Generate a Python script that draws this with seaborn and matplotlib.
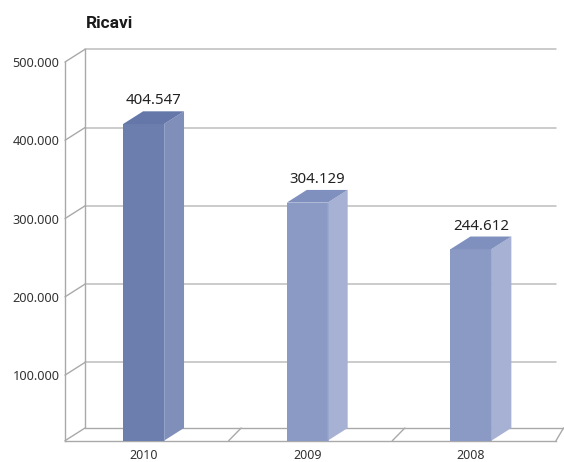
import matplotlib
matplotlib.use("Agg")
import numpy as np
import pandas as pd
import matplotlib.pyplot as plt
import seaborn as sns
from matplotlib.patches import Polygon

# data
years = ["2010", "2009", "2008"]
ricavi = [404547, 304129, 244612]
grid_values = [100000, 200000, 300000, 400000, 500000]
chart_title = "Ricavi"

front_colors = ["#6b7eae", "#8a9ac4", "#8a9ac4"]
side_colors = ["#7f8fba", "#a6b1d4", "#a6b1d4"]
top_colors = ["#6577a9", "#8090be", "#8090be"]


def fmt_it(v):
    """Italian style thousands separator."""
    return f"{v:,.0f}".replace(",", ".")


sns.set_theme(style="white")
plt.rcParams["font.family"] = ["Noto Sans", "DejaVu Sans"]

W, H = 564, 462
fig = plt.figure(figsize=(W / 100, H / 100), dpi=100)

# front plane of the fake 3D box, in pixels
front_left, front_right = 65, 556
front_floor, front_top = 440.7, 62
depth_px_x, depth_px_y = 20, 12.7

ax = fig.add_axes([front_left / W, (H - front_floor) / H,
                   (front_right - front_left) / W, (front_floor - front_top) / H])

df = pd.DataFrame({"year": years, "ricavi": ricavi})
sns.barplot(data=df, x="year", y="ricavi", hue="year", palette=front_colors,
            width=0.25, saturation=1, legend=False, ax=ax, zorder=3)

ymax = max(grid_values)
units_per_px = ymax / ((front_floor - front_top) + depth_px_y)
D = depth_px_y * units_per_px          # depth offset in data units
shift = 0.02
x0, x1 = -0.5 + shift, len(years) - 0.5 + shift
dx = depth_px_x * (x1 - x0) / (front_right - front_left)
dx_floor = 12.5 * (x1 - x0) / (front_right - front_left)

ax.set_xlim(x0, x1)
ax.set_ylim(0, ymax - D)

line_c = "#a9a9a9"
grid_c = "#bdbdbd"

# back wall gridlines and left depth ticks
for v in grid_values:
    ax.plot([x0 + dx, x1], [v, v], color=grid_c, lw=1.1, clip_on=False, zorder=1)
    ax.plot([x0, x0 + dx], [v - D, v], color=line_c, lw=1.0, clip_on=False, zorder=1)
ax.plot([x0 + dx, x0 + dx], [D, ymax], color=line_c, lw=1.0, clip_on=False, zorder=1)

# floor
ax.plot([x0, x0 + dx], [0, D], color=line_c, lw=1.0, clip_on=False, zorder=1)
ax.plot([x0 + dx, x1 + dx_floor * 0.6], [D, D], color=line_c, lw=1.0, clip_on=False, zorder=1)
for i in range(1, len(years)):
    xb = i - 0.5 + shift
    ax.plot([xb, xb + dx_floor], [0, D], color=line_c, lw=1.0, clip_on=False, zorder=1)
ax.plot([x1, x1 + dx_floor * 0.6], [0, D], color=line_c, lw=1.0, clip_on=False, zorder=1)

# side and top faces of each bar
bars = sorted(ax.patches, key=lambda p: p.get_x())
for bar, v, sc, tc in zip(bars, ricavi, side_colors, top_colors):
    bl = bar.get_x()
    br = bl + bar.get_width()
    bar.set_edgecolor("none")
    side = Polygon([(br, 0), (br + dx, D), (br + dx, v + D), (br, v)],
                   closed=True, facecolor=sc, edgecolor="none", zorder=3, clip_on=False)
    top = Polygon([(bl, v), (bl + dx, v + D), (br + dx, v + D), (br, v)],
                  closed=True, facecolor=tc, edgecolor="none", zorder=3, clip_on=False)
    ax.add_patch(side)
    ax.add_patch(top)
    ax.plot([br, br], [0, v], color="#9aa7cc", lw=0.6, zorder=4, clip_on=False)
    ax.annotate(fmt_it(v), xy=((bl + br) / 2 + dx / 2, v + D), xytext=(0, 5),
                textcoords="offset points", ha="center", va="baseline",
                fontsize=10.8, color="#222222", annotation_clip=False)

# axes styling
for s in ["top", "right"]:
    ax.spines[s].set_visible(False)
for s in ["left", "bottom"]:
    ax.spines[s].set_color(line_c)
    ax.spines[s].set_linewidth(1.0)

ax.set_yticks([v - D for v in grid_values])
ax.set_yticklabels([fmt_it(v) for v in grid_values], fontsize=9.2, color="#333333")
ax.set_xticks(range(len(years)))
ax.set_xticklabels(years, fontsize=9, color="#333333")
ax.tick_params(axis="y", length=0, pad=4)
ax.tick_params(axis="x", length=0, pad=6)
ax.set_xlabel("")
ax.set_ylabel("")
ax.grid(False)
ax.set_facecolor("none")

fig.text(86 / W, 1 - 23 / H, chart_title, fontsize=12.5, fontweight="bold",
         family=["Roboto", "DejaVu Sans"], color="#1a1a1a", ha="left", va="center")

fig.savefig("out.png", dpi=100)
plt.close(fig)
